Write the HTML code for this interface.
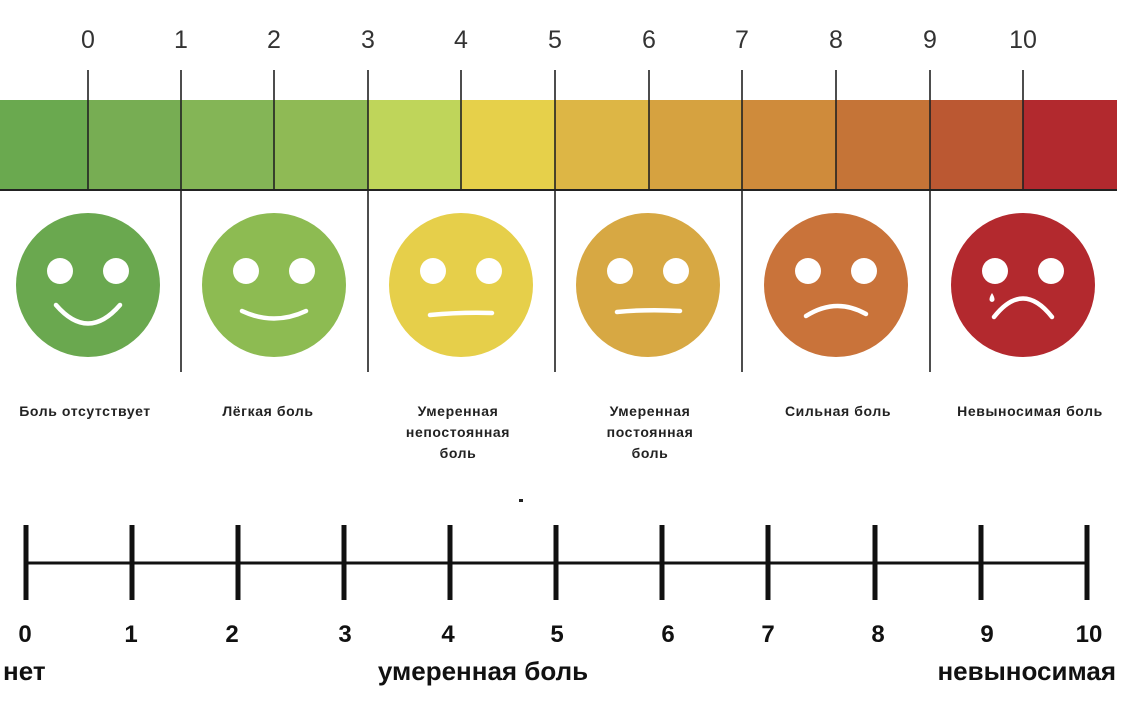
<!DOCTYPE html>
<html><head><meta charset="utf-8"><style>
html,body{margin:0;padding:0;background:#fff;width:1130px;height:704px;overflow:hidden}
svg text{font-family:"Liberation Sans","DejaVu Sans",sans-serif}
</style></head><body>
<svg width="1130" height="704" viewBox="0 0 1130 704" xmlns="http://www.w3.org/2000/svg">
<g>
<rect x="0" y="100" width="88" height="90" fill="#6aa94f"/>
<rect x="88" y="100" width="93" height="90" fill="#77ad53"/>
<rect x="181" y="100" width="93" height="90" fill="#84b556"/>
<rect x="274" y="100" width="94" height="90" fill="#8fba55"/>
<rect x="368" y="100" width="93" height="90" fill="#bfd55a"/>
<rect x="461" y="100" width="94" height="90" fill="#e6d04a"/>
<rect x="555" y="100" width="94" height="90" fill="#ddb645"/>
<rect x="649" y="100" width="93" height="90" fill="#d6a240"/>
<rect x="742" y="100" width="94" height="90" fill="#cf8b3b"/>
<rect x="836" y="100" width="94" height="90" fill="#c57437"/>
<rect x="930" y="100" width="93" height="90" fill="#bb5832"/>
<rect x="1023" y="100" width="94" height="90" fill="#b2292e"/>
<line x1="0" y1="190" x2="1117" y2="190" stroke="#222" stroke-width="2"/>
</g>
<g stroke="#222" stroke-width="1.6">
<line x1="88" y1="70" x2="88" y2="190"/>
<line x1="181" y1="70" x2="181" y2="372"/>
<line x1="274" y1="70" x2="274" y2="190"/>
<line x1="368" y1="70" x2="368" y2="372"/>
<line x1="461" y1="70" x2="461" y2="190"/>
<line x1="555" y1="70" x2="555" y2="372"/>
<line x1="649" y1="70" x2="649" y2="190"/>
<line x1="742" y1="70" x2="742" y2="372"/>
<line x1="836" y1="70" x2="836" y2="190"/>
<line x1="930" y1="70" x2="930" y2="372"/>
<line x1="1023" y1="70" x2="1023" y2="190"/>
</g>
<g font-size="25" fill="#333" text-anchor="middle">
<text x="88" y="48">0</text><text x="181" y="48">1</text><text x="274" y="48">2</text>
<text x="368" y="48">3</text><text x="461" y="48">4</text><text x="555" y="48">5</text>
<text x="649" y="48">6</text><text x="742" y="48">7</text><text x="836" y="48">8</text>
<text x="930" y="48">9</text><text x="1023" y="48">10</text>
</g>
<g fill="none" stroke="#fff" stroke-width="4.5" stroke-linecap="round">
<circle cx="88" cy="285" r="72" fill="#6aa84f" stroke="none"/>
<circle cx="274" cy="285" r="72" fill="#8dbb52" stroke="none"/>
<circle cx="461" cy="285" r="72" fill="#e6cf4a" stroke="none"/>
<circle cx="648" cy="285" r="72" fill="#d7a843" stroke="none"/>
<circle cx="836" cy="285" r="72" fill="#c9733a" stroke="none"/>
<circle cx="1023" cy="285" r="72" fill="#b3292e" stroke="none"/>
<g fill="#fff" stroke="none">
<circle cx="60" cy="271" r="13"/><circle cx="116" cy="271" r="13"/>
<circle cx="246" cy="271" r="13"/><circle cx="302" cy="271" r="13"/>
<circle cx="433" cy="271" r="13"/><circle cx="489" cy="271" r="13"/>
<circle cx="620" cy="271" r="13"/><circle cx="676" cy="271" r="13"/>
<circle cx="808" cy="271" r="13"/><circle cx="864" cy="271" r="13"/>
<circle cx="995" cy="271" r="13"/><circle cx="1051" cy="271" r="13"/>
<path d="M992 293 q-5 8 0 9 q5 -1 0 -9z"/>
</g>
<path d="M56 305 Q88 342 120 305"/>
<path d="M242 311 Q274 326 306 311"/>
<path d="M430 315 Q461 312 492 313"/>
<path d="M617 312 Q648 309 680 311"/>
<path d="M806 316 Q836 297 866 314"/>
<path d="M994 317 Q1023 280 1052 317"/>
</g>
<g font-size="14" font-weight="bold" fill="#222" text-anchor="middle" letter-spacing="0.6">
<text x="85" y="416">Боль отсутствует</text>
<text x="268" y="416">Лёгкая боль</text>
<text x="458" y="416">Умеренная</text><text x="458" y="437">непостоянная</text><text x="458" y="458">боль</text>
<text x="650" y="416">Умеренная</text><text x="650" y="437">постоянная</text><text x="650" y="458">боль</text>
<text x="838" y="416">Сильная боль</text>
<text x="1030" y="416">Невыносимая боль</text>
</g>
<rect x="519" y="499" width="4" height="3" fill="#222"/>
<line x1="25" y1="563" x2="1087" y2="563" stroke="#111" stroke-width="3"/>
<g stroke="#111" stroke-width="5">
<line x1="26" y1="525" x2="26" y2="600"/><line x1="132" y1="525" x2="132" y2="600"/>
<line x1="238" y1="525" x2="238" y2="600"/><line x1="344" y1="525" x2="344" y2="600"/>
<line x1="450" y1="525" x2="450" y2="600"/><line x1="556" y1="525" x2="556" y2="600"/>
<line x1="662" y1="525" x2="662" y2="600"/><line x1="768" y1="525" x2="768" y2="600"/>
<line x1="875" y1="525" x2="875" y2="600"/><line x1="981" y1="525" x2="981" y2="600"/>
<line x1="1087" y1="525" x2="1087" y2="600"/>
</g>
<g font-size="24" font-weight="bold" fill="#111" text-anchor="middle">
<text x="25" y="642">0</text><text x="131" y="642">1</text><text x="232" y="642">2</text>
<text x="345" y="642">3</text><text x="448" y="642">4</text><text x="557" y="642">5</text>
<text x="668" y="642">6</text><text x="768" y="642">7</text><text x="878" y="642">8</text>
<text x="987" y="642">9</text><text x="1089" y="642">10</text>
</g>
<g font-size="26" font-weight="bold" fill="#111">
<text x="3" y="680">нет</text>
<text x="483" y="680" text-anchor="middle">умеренная боль</text>
<text x="1116" y="680" text-anchor="end">невыносимая</text>
</g>
</svg>
</body></html>
